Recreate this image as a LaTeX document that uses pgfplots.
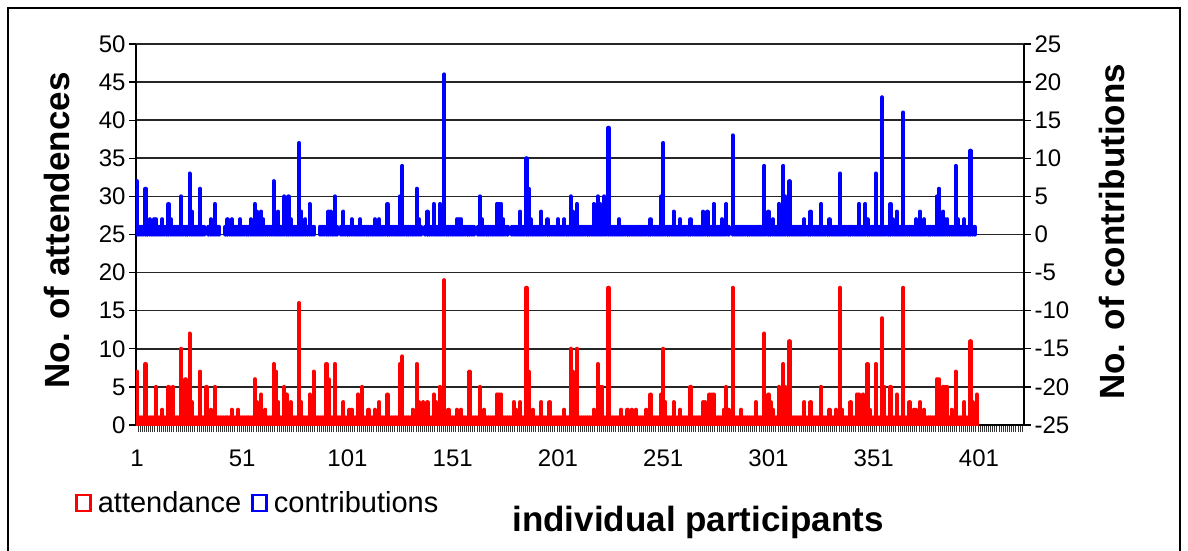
\documentclass[border=0pt]{standalone}
\usepackage{fontspec}
\setmainfont{Liberation Sans}
\usepackage{pgfplots}
\usepackage{pgfplotstable}
\pgfplotsset{compat=1.18}

% participant, attendance, contributions
\pgfplotstableread[row sep=\\]{
i att con\\
1 7 7\\ 2 1 1\\ 3 1 1\\ 4 1 1\\ 5 8 6\\ 6 1 1\\ 7 1 2\\ 8 1 1\\ 9 1 2\\ 10 5 2\\
11 1 1\\ 12 1 1\\ 13 2 2\\ 14 1 1\\ 15 1 1\\ 16 5 4\\ 17 1 2\\ 18 5 1\\ 19 1 1\\ 20 1 1\\
21 1 1\\ 22 10 5\\ 23 1 1\\ 24 6 1\\ 25 1 1\\ 26 12 8\\ 27 3 3\\ 28 1 1\\ 29 1 1\\ 30 1 1\\
31 7 6\\ 32 1 1\\ 33 1 1\\ 34 5 0\\ 35 1 1\\ 36 2 2\\ 37 1 1\\ 38 5 4\\ 39 1 1\\ 40 1 1\\
41 1 0\\ 42 1 0\\ 43 1 1\\ 44 1 2\\ 45 1 1\\ 46 2 2\\ 47 1 1\\ 48 1 1\\ 49 2 1\\ 50 1 2\\
51 1 1\\ 52 1 1\\ 53 1 1\\ 54 1 1\\ 55 1 2\\ 56 1 1\\ 57 6 4\\ 58 3 3\\ 59 1 1\\ 60 4 3\\
61 1 2\\ 62 2 1\\ 63 1 1\\ 64 1 1\\ 65 1 1\\ 66 8 7\\ 67 7 1\\ 68 3 3\\ 69 1 1\\ 70 1 1\\
71 5 5\\ 72 4 1\\ 73 1 5\\ 74 3 2\\ 75 1 1\\ 76 1 1\\ 77 1 1\\ 78 16 12\\ 79 3 3\\ 80 1 1\\
81 1 2\\ 82 1 1\\ 83 4 4\\ 84 1 1\\ 85 7 1\\ 86 1 0\\ 87 1 0\\ 88 1 1\\ 89 1 1\\ 90 1 1\\
91 8 1\\ 92 6 3\\ 93 1 3\\ 94 1 1\\ 95 8 5\\ 96 1 1\\ 97 1 0\\ 98 1 1\\ 99 3 3\\ 100 1 1\\
101 1 1\\ 102 2 1\\ 103 2 2\\ 104 1 1\\ 105 1 1\\ 106 4 1\\ 107 1 2\\ 108 5 1\\ 109 1 1\\ 110 1 1\\
111 2 1\\ 112 1 1\\ 113 1 1\\ 114 2 2\\ 115 1 1\\ 116 3 2\\ 117 1 1\\ 118 1 1\\ 119 1 1\\ 120 4 4\\
121 1 1\\ 122 1 1\\ 123 1 1\\ 124 1 1\\ 125 1 1\\ 126 8 5\\ 127 9 9\\ 128 1 1\\ 129 1 1\\ 130 1 1\\
131 1 1\\ 132 2 1\\ 133 1 1\\ 134 8 6\\ 135 3 2\\ 136 1 1\\ 137 3 0\\ 138 1 1\\ 139 3 3\\ 140 1 1\\
141 1 1\\ 142 4 4\\ 143 3 1\\ 144 1 1\\ 145 5 4\\ 146 1 1\\ 147 19 21\\ 148 1 1\\ 149 2 1\\ 150 1 1\\
151 1 1\\ 152 1 1\\ 153 2 2\\ 154 1 2\\ 155 2 2\\ 156 1 1\\ 157 1 1\\ 158 1 1\\ 159 7 1\\ 160 1 1\\
161 1 1\\ 162 1 0\\ 163 1 1\\ 164 5 5\\ 165 1 2\\ 166 2 1\\ 167 1 1\\ 168 1 1\\ 169 1 1\\ 170 1 1\\
171 1 1\\ 172 4 4\\ 173 4 4\\ 174 4 4\\ 175 1 2\\ 176 1 1\\ 177 1 1\\ 178 1 0\\ 179 1 1\\ 180 3 1\\
181 2 1\\ 182 1 1\\ 183 3 3\\ 184 1 1\\ 185 1 1\\ 186 18 10\\ 187 7 6\\ 188 1 2\\ 189 2 1\\ 190 1 1\\
191 1 1\\ 192 1 1\\ 193 3 3\\ 194 1 1\\ 195 1 1\\ 196 1 2\\ 197 3 1\\ 198 1 1\\ 199 1 1\\ 200 1 1\\
201 1 2\\ 202 1 1\\ 203 1 1\\ 204 2 2\\ 205 1 1\\ 206 1 1\\ 207 10 5\\ 208 7 3\\ 209 1 1\\ 210 10 4\\
211 1 1\\ 212 1 1\\ 213 1 1\\ 214 1 1\\ 215 1 1\\ 216 1 1\\ 217 1 1\\ 218 2 4\\ 219 1 1\\ 220 8 5\\
221 5 4\\ 222 5 1\\ 223 1 5\\ 224 1 1\\ 225 18 14\\ 226 1 1\\ 227 1 1\\ 228 1 1\\ 229 1 1\\ 230 1 2\\
231 2 1\\ 232 1 1\\ 233 1 1\\ 234 2 1\\ 235 1 1\\ 236 2 1\\ 237 1 1\\ 238 2 1\\ 239 1 1\\ 240 1 1\\
241 1 1\\ 242 1 1\\ 243 2 1\\ 244 1 1\\ 245 4 2\\ 246 1 1\\ 247 1 1\\ 248 1 1\\ 249 1 1\\ 250 4 5\\
251 10 12\\ 252 3 1\\ 253 1 1\\ 254 1 1\\ 255 1 1\\ 256 3 3\\ 257 1 1\\ 258 1 1\\ 259 2 2\\ 260 1 1\\
261 1 1\\ 262 1 1\\ 263 1 1\\ 264 5 2\\ 265 1 1\\ 266 1 1\\ 267 1 1\\ 268 1 1\\ 269 1 1\\ 270 3 3\\
271 3 2\\ 272 1 3\\ 273 4 1\\ 274 4 1\\ 275 4 4\\ 276 1 1\\ 277 1 1\\ 278 1 1\\ 279 1 2\\ 280 2 1\\
281 5 4\\ 282 2 1\\ 283 1 0\\ 284 18 13\\ 285 1 1\\ 286 1 1\\ 287 1 1\\ 288 2 1\\ 289 1 1\\ 290 1 1\\
291 1 1\\ 292 1 1\\ 293 1 1\\ 294 1 1\\ 295 3 1\\ 296 1 1\\ 297 1 1\\ 298 1 1\\ 299 12 9\\ 300 1 1\\
301 4 3\\ 302 3 1\\ 303 2 2\\ 304 1 1\\ 305 1 1\\ 306 5 4\\ 307 1 1\\ 308 8 9\\ 309 5 5\\ 310 1 1\\
311 11 7\\ 312 1 1\\ 313 1 1\\ 314 1 1\\ 315 1 1\\ 316 1 1\\ 317 1 1\\ 318 3 2\\ 319 1 1\\ 320 1 1\\
321 3 3\\ 322 1 1\\ 323 1 1\\ 324 1 1\\ 325 1 1\\ 326 5 4\\ 327 1 1\\ 328 1 1\\ 329 1 1\\ 330 2 2\\
331 1 1\\ 332 1 1\\ 333 2 1\\ 334 1 1\\ 335 18 8\\ 336 2 1\\ 337 1 1\\ 338 1 1\\ 339 1 1\\ 340 3 1\\
341 1 1\\ 342 1 1\\ 343 4 1\\ 344 4 4\\ 345 1 1\\ 346 4 1\\ 347 1 4\\ 348 8 2\\ 349 2 1\\ 350 1 1\\
351 1 1\\ 352 8 8\\ 353 1 1\\ 354 1 1\\ 355 14 18\\ 356 5 1\\ 357 1 1\\ 358 1 1\\ 359 5 4\\ 360 1 2\\
361 1 1\\ 362 4 3\\ 363 1 1\\ 364 1 1\\ 365 18 16\\ 366 1 1\\ 367 1 1\\ 368 3 1\\ 369 1 1\\ 370 2 1\\
371 2 2\\ 372 1 1\\ 373 3 3\\ 374 1 1\\ 375 2 2\\ 376 1 1\\ 377 1 1\\ 378 1 1\\ 379 1 1\\ 380 1 1\\
381 6 5\\ 382 6 6\\ 383 1 1\\ 384 5 3\\ 385 5 2\\ 386 5 2\\ 387 1 1\\ 388 2 1\\ 389 1 1\\ 390 7 9\\
391 1 2\\ 392 1 1\\ 393 1 1\\ 394 3 2\\ 395 1 1\\ 396 1 1\\ 397 11 11\\ 398 3 1\\ 399 1 1\\ 400 4 0\\
}\data

\pgfplotsset{
  chartbase/.style={
    scale only axis, width=888pt, height=381pt,
    xmin=0.525, xmax=422.4,
    axis line style={black, line width=2pt},
    tick align=outside,
    major tick length=7pt,
    every tick/.style={black, line width=1.3pt},
    /pgf/number format/assume math mode=true,
    ticklabel style={font=\fontsize{24}{28}\selectfont, black},
    label style={font=\bfseries\fontsize{35}{40}\selectfont},
  },
}

\begin{document}
\begin{tikzpicture}
\begin{axis}[chartbase,
  ymin=0, ymax=50,
  axis x line*=bottom, axis y line*=left,
  ytick={0,5,...,50},
  ymajorgrids, grid style={black!85, line width=1.6pt},
  xtick={0.5,1.5,...,422.5},
  xticklabels={},
  major x tick style={line width=0.8pt, black!80},
  extra x ticks={1,51,101,151,201,251,301,351,401},
  extra x tick labels={1,51,101,151,201,251,301,351,401},
  extra x tick style={major tick length=0pt, xticklabel style={yshift=-21pt}},
  ylabel={No. of attendences},
  ylabel style={at={(axis description cs:-0.089,0.51)}, anchor=center},
  xlabel={individual participants},
  xlabel style={at={(axis description cs:0.633,-0.255)}, anchor=center},
]
\coordinate (o) at (rel axis cs:0,0);
\addplot[ycomb, red, line width=4.2pt, line cap=round] table[x=i, y=att] {\data};
\end{axis}

\begin{axis}[chartbase,
  ymin=-25, ymax=25,
  hide x axis,
  axis y line*=right,
  ytick={-25,-20,...,25},
  yticklabel style={anchor=west},
  ylabel={No. of contributions},
  ylabel style={at={(axis description cs:1.099,0.507)}, anchor=center},
  legend image code/.code={\draw[#1, line width=2.6pt, fill=white] (0pt,-8pt) rectangle (14pt,8pt);},
  legend style={at={(axis description cs:-0.072,-0.205)}, anchor=west, draw=none, fill=none,
    legend columns=-1, font=\fontsize{29}{33}\selectfont,
    /tikz/every odd column/.append style={column sep=4pt},
    /tikz/every even column/.append style={column sep=8pt}},
]
\addlegendimage{draw=red}
\addlegendentry{attendance}
\addlegendimage{draw=blue}
\addlegendentry{contributions}
\addplot[forget plot, ycomb, blue, line width=4.2pt, line cap=round,
  restrict y to domain=0.5:30] table[x=i, y=con] {\data};
\end{axis}

% chart area border, placed relative to the plot area
\draw[line width=1.8pt, black] (o) ++(-128pt,-131pt) -- ++(0pt,548pt) -- ++(1172pt,0pt) -- ++(0pt,-548pt);
\pgfresetboundingbox
\path[use as bounding box] (o) ++(-136pt,-126pt) rectangle ++(1188pt,551pt);
\end{tikzpicture}
\end{document}
